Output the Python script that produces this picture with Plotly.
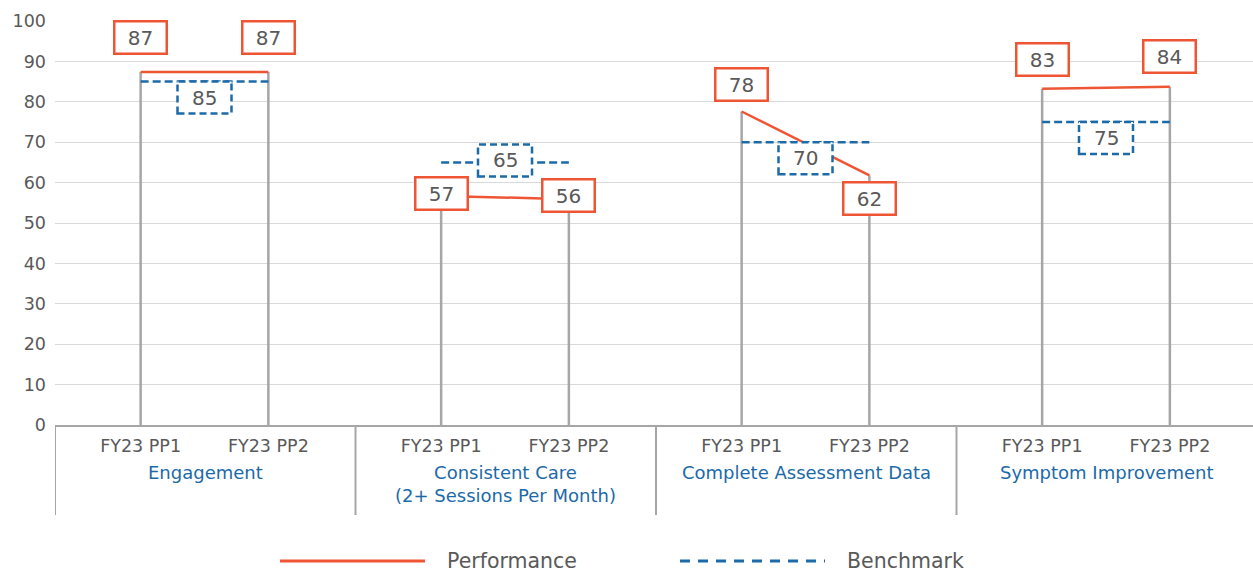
import plotly.graph_objects as go

# ---- data ----
categories = ["Engagement", "Consistent Care<br>(2+ Sessions Per Month)",
              "Complete Assessment Data", "Symptom Improvement"]
periods = ["FY23 PP1", "FY23 PP2"]
performance_pp1 = [87.4, 56.7, 77.6, 83.2]
performance_pp2 = [87.4, 55.9, 61.8, 83.7]
benchmark = [85, 65, 70, 75]
y_ticks = [0, 10, 20, 30, 40, 50, 60, 70, 80, 90, 100]

# ---- style / layout constants ----
RED = "#EE5535"
BLUE = "#1C6AA8"
GREY_TXT = "#595959"
DROP = "#A6A6A6"
FONT = "DejaVu Sans"
SLOT = [0.285, 0.71]          # position of each period inside a group
perf_shift = [[34, 34], [2, 4], [27, -23], [29, 30]]   # label offset (px, up)
bench_shift = [-16, 2, -16, -16]

W, H = 1253, 572
L, R, T, B = 55, 0, 21, 147
pw, ph = W - L - R, H - T - B
GROUP_PX = 300.5

def px_x(p):
    return (p - L) / pw

def px_y(p):
    return (H - B - p) / ph

fig = go.Figure()

n = len(categories)
x1 = [g + SLOT[0] for g in range(n)]
x2 = [g + SLOT[1] for g in range(n)]

# drop lines
dx, dy = [], []
for g in range(n):
    for xv, yv in ((x1[g], performance_pp1[g]), (x2[g], performance_pp2[g])):
        dx += [xv, xv, None]
        dy += [0, yv, None]
fig.add_trace(go.Scatter(x=dx, y=dy, mode="lines",
                         line=dict(color=DROP, width=2.5),
                         hoverinfo="skip", showlegend=False))

# benchmark lines
bx, by = [], []
for g in range(n):
    bx += [x1[g], x2[g], None]
    by += [benchmark[g], benchmark[g], None]
fig.add_trace(go.Scatter(x=bx, y=by, mode="lines", name="Benchmark",
                         line=dict(color=BLUE, width=2.5, dash="8px,4px"),
                         showlegend=False))

# performance lines
lx, ly = [], []
for g in range(n):
    lx += [x1[g], x2[g], None]
    ly += [performance_pp1[g], performance_pp2[g], None]
fig.add_trace(go.Scatter(x=lx, y=ly, mode="lines", name="Performance",
                         line=dict(color=RED, width=2.5),
                         showlegend=False))

shapes = []
annotations = []

# benchmark label boxes (dashed) + text
for g in range(n):
    xm = (x1[g] + x2[g]) / 2
    s = bench_shift[g]
    shapes.append(dict(type="rect", xref="x", yref="y",
                       xsizemode="pixel", ysizemode="pixel",
                       xanchor=xm, yanchor=benchmark[g],
                       x0=-27, x1=27, y0=s - 16, y1=s + 16,
                       fillcolor="white", line=dict(color=BLUE, width=2.5, dash="7px,4px"),
                       layer="above"))
    annotations.append(dict(x=xm, y=benchmark[g], xref="x", yref="y",
                            text=f"{benchmark[g]:.0f}", showarrow=False,
                            yshift=s, font=dict(family=FONT, size=20, color=GREY_TXT)))

# performance labels (solid red boxes)
for g in range(n):
    for k, (xv, yv) in enumerate(((x1[g], performance_pp1[g]), (x2[g], performance_pp2[g]))):
        annotations.append(dict(x=xv, y=yv, xref="x", yref="y",
                                text=f"{yv:.0f}", showarrow=False,
                                yshift=perf_shift[g][k],
                                width=50, height=30, borderpad=0,
                                bordercolor=RED, borderwidth=2.5, bgcolor="white",
                                font=dict(family=FONT, size=20, color=GREY_TXT)))

# category group labels
for g in range(n):
    annotations.append(dict(x=g + 0.5, y=px_y(460), xref="x", yref="paper",
                            text=categories[g], showarrow=False, yanchor="top",
                            font=dict(family=FONT, size=18, color=BLUE)))

# group separators below axis
for g in range(n + 1):
    shapes.append(dict(type="line", xref="x", yref="paper",
                       x0=g, x1=g, y0=0, y1=px_y(515),
                       line=dict(color=DROP, width=2)))

# manual legend
ly_leg = px_y(561)
shapes.append(dict(type="line", xref="paper", yref="paper",
                   x0=px_x(280), x1=px_x(425), y0=ly_leg, y1=ly_leg,
                   line=dict(color=RED, width=3)))
shapes.append(dict(type="line", xref="paper", yref="paper",
                   x0=px_x(680), x1=px_x(825), y0=ly_leg, y1=ly_leg,
                   line=dict(color=BLUE, width=3, dash="10px,8px")))
annotations.append(dict(x=px_x(445), y=ly_leg, xref="paper", yref="paper",
                        text="Performance", showarrow=False, xanchor="left", yanchor="middle",
                        font=dict(family=FONT, size=20.5, color=GREY_TXT)))
annotations.append(dict(x=px_x(845), y=ly_leg, xref="paper", yref="paper",
                        text="Benchmark", showarrow=False, xanchor="left", yanchor="middle",
                        font=dict(family=FONT, size=20.5, color=GREY_TXT)))

tickvals = []
ticktext = []
for g in range(n):
    tickvals += [x1[g], x2[g]]
    ticktext += periods

fig.update_layout(
    width=W, height=H,
    margin=dict(l=L, r=R, t=T, b=B, autoexpand=False),
    paper_bgcolor="white", plot_bgcolor="white",
    shapes=shapes, annotations=annotations,
    showlegend=False,
    xaxis=dict(range=[0, pw / GROUP_PX], tickvals=tickvals, ticktext=ticktext,
               showgrid=False, zeroline=False, showline=True,
               linecolor=DROP, linewidth=2, ticks="",
               ticklabelstandoff=4,
               tickfont=dict(family=FONT, size=17.5, color=GREY_TXT)),
    yaxis=dict(range=[0, 100], tickvals=y_ticks, showgrid=True,
               gridcolor="#D9D9D9", gridwidth=1, zeroline=False,
               showline=False, ticks="", ticklabelstandoff=8,
               tickfont=dict(family=FONT, size=17.5, color=GREY_TXT)),
)

fig.write_html("out.html", config={"displayModeBar": False},
               post_script="document.body.style.margin='0px';document.body.style.overflow='hidden';")
